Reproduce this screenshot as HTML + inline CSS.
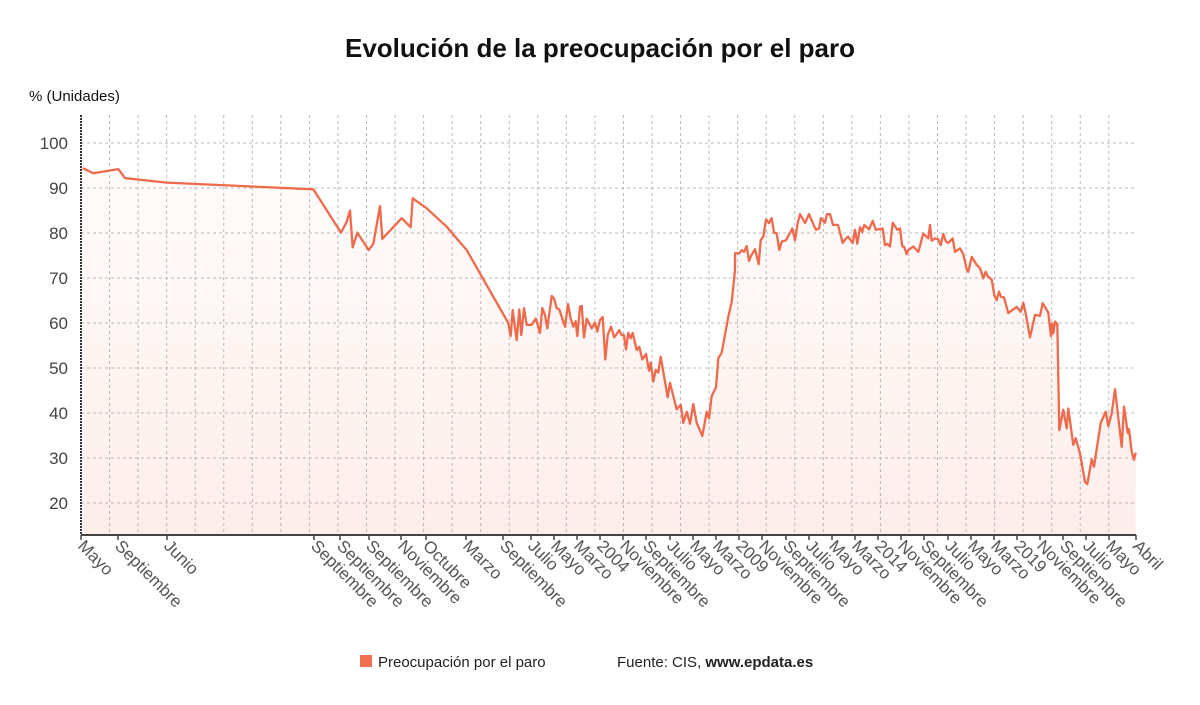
<!DOCTYPE html>
<html><head><meta charset="utf-8"><style>
body{margin:0;background:#fff;}
svg{display:block;font-family:"Liberation Sans",sans-serif;}
</style></head><body>
<svg id="chart" width="1200" height="705">
<text x="600" y="57" text-anchor="middle" font-size="26" font-weight="bold" fill="#111">Evolución de la preocupación por el paro</text>
<text x="29" y="101" font-size="15" fill="#111">% (Unidades)</text>
<defs><linearGradient id="fillg" x1="0" y1="0" x2="0" y2="1"><stop offset="0" stop-color="#f07050" stop-opacity="0.02"/><stop offset="1" stop-color="#f07050" stop-opacity="0.12"/></linearGradient></defs>
<g id="grid"></g>
<g id="marks"></g>
<g id="axes"></g>
<g>
<rect x="360" y="655" width="12" height="12" fill="#f07050"/>
<text x="378" y="667" font-size="15" fill="#222">Preocupación por el paro</text>
<text x="617" y="667" font-size="15" fill="#222">Fuente: CIS, <tspan font-weight="bold">www.epdata.es</tspan></text>
</g>
</svg>
<script>
const tickLabels=["Mayo","Septiembre","Junio","Septiembre","Septiembre","Septiembre","Noviembre","Octubre","Marzo","Septiembre","Julio","Mayo","Marzo","2004","Noviembre","Septiembre","Julio","Mayo","Marzo","2009","Noviembre","Septiembre","Julio","Mayo","Marzo","2014","Noviembre","Septiembre","Julio","Mayo","Marzo","2019","Noviembre","Septiembre","Julio","Mayo","Abril"];
const tickTimes=[0,37,86,233,259,288,320,345,385,422,450,473,496,519,542,565,589,612,635,658,681,705,728,751,774,797,820,843,867,890,913,936,959,982,1005,1028,1055];
const yTicks=[20,30,40,50,60,70,80,90,100];
const times=[1.7,12.3,37.3,44,85.7,232.3,260,265.7,269,271.7,276.3,287.7,292.3,299,301.3,320.7,329.7,331.7,345.7,365.7,385.7,427.3,429.7,431.7,435.7,438.3,440.3,443,445.7,450.7,454.7,459,461.3,464,466.3,470.7,473,475.7,478.3,484,487,489.7,492.3,494.7,496.3,499,500.7,503,505.7,510.7,514,516.3,519,521.7,524.3,526.7,530,533.3,538.3,540.7,543,545,547.3,549.7,551.7,555.7,558.3,561.3,565,568,569.7,572.3,574.7,577.3,579.7,586.7,589,595.7,599.7,602.3,605.7,609,612.3,615.7,621.3,625.7,628,630.7,635,637.3,640.7,647.3,650.7,654,654,658.3,660.7,663,665.7,668,670,674,677.7,679.7,682.3,685,688,690.7,693,695.7,698.3,700.7,705,711.3,714,716.7,719,724,728,733,735,738,740,744,746,749,752,757,761.7,764.3,767,771.7,774,776.3,779,781.3,783.3,788,791.7,794.7,801.7,804,806.3,809,811.7,816.3,819,821.3,823,825.7,827.3,832.3,837.3,842.3,847.3,849,850.7,854,857.3,859.7,862.3,865,867.3,871.7,874,879,882.3,885.7,887.3,890.7,895.7,899,902.3,904.7,906.7,910.7,913.3,915.7,918,920,923,927.3,935.7,939.7,942.3,945,949,954,959,961.7,967.3,968.3,970,971,972.3,974,976.3,978.3,982.3,985.7,987.3,992.3,994.7,999,1004,1006.3,1010.7,1013,1019.7,1024.7,1027.3,1030.7,1034,1040.7,1043,1046.7,1048,1050.7,1053,1054.7];
const values=[94.4,93.3,94.2,92.2,91.2,89.7,80.1,82.5,85,76.8,80.1,76.2,77.6,86,78.7,83.3,81.3,87.7,85.5,81.4,76.2,60,57.1,62.9,56.2,63,57.3,63.3,59.6,59.6,61,57.8,63.3,61.8,58.8,66,65.5,63.3,63,59.2,64.2,61,59.2,60.4,57.1,63.6,63.8,56.8,61,58.8,60.1,58.1,60.7,61.3,51.9,57.3,59.2,56.8,58.4,57.3,57.3,54.1,57.8,56.6,57.8,54,54.7,51.9,53.1,49.4,51.2,47,49.6,49,52.5,43.5,46.7,40.8,41.8,37.8,40.3,37.6,42,37.8,34.9,40.3,38.8,43.8,45.7,52.2,53.4,61.4,64.7,71.8,75.5,75.5,76.2,75.8,77.1,73.8,74.9,76.4,73.1,78.4,79.2,83,82.2,83.3,80.1,79.9,76.2,78.1,78.4,81,78.4,82.2,84.2,82.2,84.2,81.6,80.7,81,83.3,82.3,84.2,84.2,81.8,81.8,77.8,78.6,79.2,77.8,80.7,77.6,81.3,80.3,81.8,80.8,82.7,80.7,81,77.3,77.6,77,82.3,80.7,81,77,77,75.3,76.2,77,75.8,79.9,78.8,81.8,78.3,78.8,78.6,77.3,79.8,78.1,77.8,78.8,75.8,76.6,75.3,71.9,71.4,74.7,72.9,72.2,69.9,71.4,70.4,69.7,66.2,65.1,67,65.8,65.7,62.2,63.6,62.5,64.5,61.8,56.8,61.8,61.6,64.4,62.3,60.3,57.1,59.9,57.7,60.3,59.8,36.2,40.7,36.6,41,32.9,34.4,31,24.7,24.2,29.7,28.1,37.8,40.3,37.1,39.9,45.3,32.5,41.4,35.6,36.4,31.4,29.6,31.2,27.7,27.3,29,29,34.7];

const NS="http://www.w3.org/2000/svg";
const L=81,R=1136,T=115,B=535;
const x=t=>L+t/1055*(R-L);
const y=v=>143+(100-v)*4.5;
function mk(tag,attrs,parent){const e=document.createElementNS(NS,tag);for(const k in attrs)e.setAttribute(k,attrs[k]);parent.appendChild(e);return e;}
const grid=document.getElementById('grid'),marks=document.getElementById('marks'),axes=document.getElementById('axes');
mk('rect',{x:L,y:T,width:R-L,height:B-T,fill:'#fff'},grid);
for(const v of yTicks){
 const g=mk('line',{x1:L,x2:R,y1:y(v),y2:y(v),stroke:'#bbb','stroke-dasharray':'3,3'},grid);
 
 
 const t=mk('text',{x:68,y:y(v)+6,'text-anchor':'end','font-size':17,fill:'#444'},axes);
 t.textContent=v;
 
 
}
for(let gx=L+28.55;gx<R;gx+=28.55){
 const g=mk('line',{x1:gx,x2:gx,y1:T,y2:B,stroke:'#bbb','stroke-dasharray':'3,3'},grid);
 
 
}
let d='',pts=[];
for(let i=0;i<times.length;i++){pts.push(x(times[i]).toFixed(1)+','+y(values[i]).toFixed(1));}
const area=mk('path',{d:'M'+x(times[0])+','+B+' L'+pts.join(' L')+' L'+x(times[times.length-1])+','+B+' Z',fill:'url(#fillg)'},marks);


const line=mk('path',{d:'M'+pts.join(' L'),fill:'none',stroke:'#ef6a4c','stroke-width':2.3,'stroke-linejoin':'round'},marks);


const la=mk('line',{x1:L,x2:L,y1:T,y2:B,stroke:'#333','stroke-width':2,'stroke-dasharray':'2,1'},axes);


const ba=mk('line',{x1:L,x2:R,y1:B,y2:B,stroke:'#444','stroke-width':2},axes);


for(let i=0;i<tickLabels.length;i++){
 const tx=x(tickTimes[i]);
 const tk=mk('line',{x1:tx,x2:tx,y1:B,y2:B+5,stroke:'#444','stroke-width':1.5},axes);
 
 
 const t=mk('text',{x:0,y:0,'font-size':17,fill:'#555',transform:'translate('+(tx-4)+','+(B+12)+') rotate(45)'},axes);
 t.textContent=tickLabels[i];
 
 
}
</script>
</body></html>
